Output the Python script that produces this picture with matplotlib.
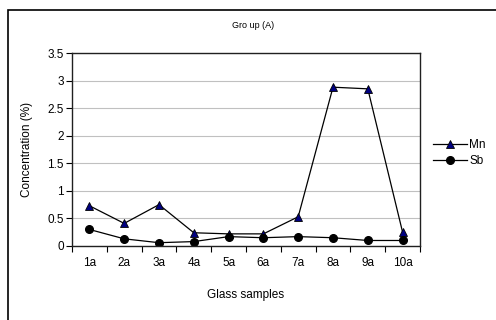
import matplotlib
matplotlib.use("Agg")
from matplotlib import pyplot as plt
from matplotlib.patches import Rectangle
import numpy as np

plt.rcParams['font.family'] = ['Liberation Sans', 'DejaVu Sans']

samples = ['1a', '2a', '3a', '4a', '5a', '6a', '7a', '8a', '9a', '10a']
mn = [0.73, 0.41, 0.75, 0.24, 0.22, 0.22, 0.53, 2.88, 2.85, 0.25]
sb = [0.30, 0.13, 0.06, 0.08, 0.17, 0.15, 0.17, 0.15, 0.10, 0.10]

fig = plt.figure(figsize=(4.96, 3.2), dpi=100)
ax = fig.add_axes([72/496, 1 - 246/320, (420 - 72)/496, (246 - 53)/320])

x = np.arange(len(samples))
ax.plot(x, mn, color='black', lw=0.9, marker='^', ms=6,
        mfc='#000080', mec='black', mew=0.6, label='Mn')
ax.plot(x, sb, color='black', lw=0.9, marker='o', ms=5.5,
        mfc='black', mec='black', label='Sb')

ax.set_xlim(-0.5, len(samples) - 0.5)
ax.set_ylim(0, 3.5)
ax.set_yticks(np.arange(0, 3.51, 0.5))
ax.set_yticklabels(['0', '0.5', '1', '1.5', '2', '2.5', '3', '3.5'])
ax.set_xticks(x)
ax.set_xticklabels(samples)
ax.set_xticks(np.arange(-0.5, len(samples), 1), minor=True)
ax.tick_params(axis='x', which='major', length=0, pad=8, labelsize=8.5)
ax.tick_params(axis='x', which='minor', length=4, direction='out', width=0.8)
ax.tick_params(axis='y', length=4, direction='out', width=0.8, labelsize=8.5, pad=2)
ax.yaxis.grid(True, color='#c0c0c0', lw=0.8)
ax.set_axisbelow(True)
for s in ax.spines.values():
    s.set_color('#202020')
    s.set_linewidth(1.0)

ax.set_xlabel('Glass samples', fontsize=8.5, labelpad=14)
ax.set_ylabel('Concentration (%)', fontsize=8.5, labelpad=10)
fig.text(253/496, 1 - 26/320, 'Gro up (A)', ha='center', va='center', fontsize=6.5)

leg = fig.legend(loc='upper left', bbox_to_anchor=(428/496, 1 - 134/320),
                 frameon=False, fontsize=8.5, handlelength=2.9,
                 labelspacing=0.35, handletextpad=0.2, borderaxespad=0)

fig.patches.append(Rectangle((8/496, -0.1), 1.2, 1 - 10/320 + 0.1,
                             transform=fig.transFigure, fill=False,
                             ec='black', lw=1.2))

fig.savefig('out.png', dpi=100)
